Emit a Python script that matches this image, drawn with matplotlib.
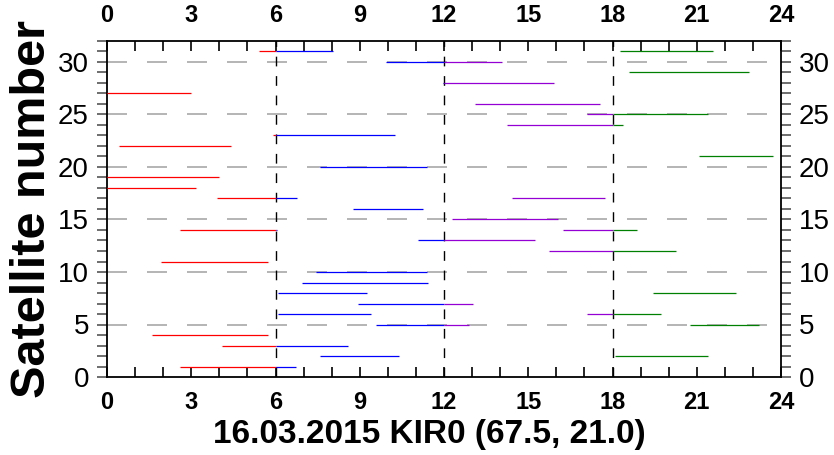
import matplotlib
matplotlib.use('Agg')
import matplotlib.pyplot as plt

plt.rcParams['font.family'] = ['Liberation Sans', 'DejaVu Sans']

# satellite passes per 6-hour block: satellite number, start hour, end hour
red_sat = [31, 27, 23, 22, 19, 18, 17, 14, 11, 4, 3, 1]
red_start = [5.43, 0.0, 5.9, 0.43, 0.0, 0.0, 3.93, 2.6, 1.92, 1.59, 4.08, 2.6]
red_end = [6.0, 2.98, 6.0, 4.4, 3.98, 3.16, 6.0, 6.0, 5.72, 5.72, 6.0, 6.0]

blue_sat = [31, 30, 28, 23, 20, 17, 16, 14, 13, 10, 9, 8, 7, 6, 5, 3, 2, 1]
blue_start = [6.0, 9.94, 11.95, 6.0, 7.59, 6.0, 8.77, 6.0, 11.09, 7.43, 6.93, 6.1, 8.95, 6.08, 9.58, 6.0, 7.59, 6.0]
blue_end = [8.06, 12.0, 12.0, 10.24, 11.38, 6.75, 11.24, 6.05, 12.0, 11.38, 11.42, 9.25, 12.0, 9.39, 12.0, 8.57, 10.4, 6.73]

purple_sat = [30, 28, 26, 25, 24, 17, 15, 14, 13, 12, 7, 6, 5]
purple_start = [12.0, 12.0, 13.1, 17.08, 14.25, 14.43, 12.27, 16.25, 12.0, 15.75, 12.0, 17.08, 12.0]
purple_end = [14.05, 15.9, 17.56, 18.0, 18.0, 17.73, 16.07, 18.0, 15.24, 18.0, 13.05, 18.0, 12.89]

green_sat = [31, 29, 25, 24, 21, 14, 12, 8, 6, 5, 2]
green_start = [18.27, 18.6, 18.0, 18.0, 21.08, 18.0, 18.0, 19.43, 18.0, 20.76, 18.09]
green_end = [21.57, 22.87, 21.39, 18.38, 23.7, 18.89, 20.25, 22.4, 19.73, 23.23, 21.39]

hour_ticks = list(range(0, 25, 3))
sat_ticks = list(range(0, 31, 5))

fig = plt.figure(figsize=(8.34, 4.55), dpi=100)
ax = fig.add_axes([107 / 834, 78 / 455, 674 / 834, 336 / 455])

# grid lines
for s in sat_ticks[1:]:
    ax.axhline(s, color='#a8a8a8', lw=1.2, dashes=(12, 12), zorder=1)
for h in [6, 12, 18]:
    ax.axvline(h, color='black', lw=1.0, dashes=(7, 7), zorder=1)

groups = [
    (red_sat, red_start, red_end, 'red'),
    (blue_sat, blue_start, blue_end, 'blue'),
    (purple_sat, purple_start, purple_end, '#9400d3'),
    (green_sat, green_start, green_end, 'green'),
]
for sats, t0, t1, col in groups:
    ax.hlines(sats, t0, t1, colors=col, lw=0.9, zorder=3)

ax.set_xlim(0, 24)
ax.set_ylim(0, 32)
ax.set_xticks(hour_ticks)
ax.set_xticks(range(25), minor=True)
ax.set_yticks(sat_ticks)
ax.set_yticks(range(33), minor=True)

ax.tick_params(axis='x', which='both', direction='in', length=7, top=True, bottom=True,
               labeltop=True, labelbottom=True, pad=10, labelsize=17, width=1.2)
ax.tick_params(axis='y', which='both', direction='out', length=7, left=True, right=True,
               labelleft=True, labelright=True, pad=6, labelsize=20, width=1.2, color='#555555')
for lab in ax.get_xticklabels():
    lab.set_fontweight('bold')
for sp in ax.spines.values():
    sp.set_linewidth(1.3)

ax.set_xlabel('16.03.2015 KIR0 (67.5, 21.0)', fontsize=24, fontweight='bold')
ax.xaxis.set_label_coords(0.478, -0.125)
ax.set_ylabel('Satellite number', fontsize=35, fontweight='bold', labelpad=2)

fig.savefig('out.png', dpi=100)
